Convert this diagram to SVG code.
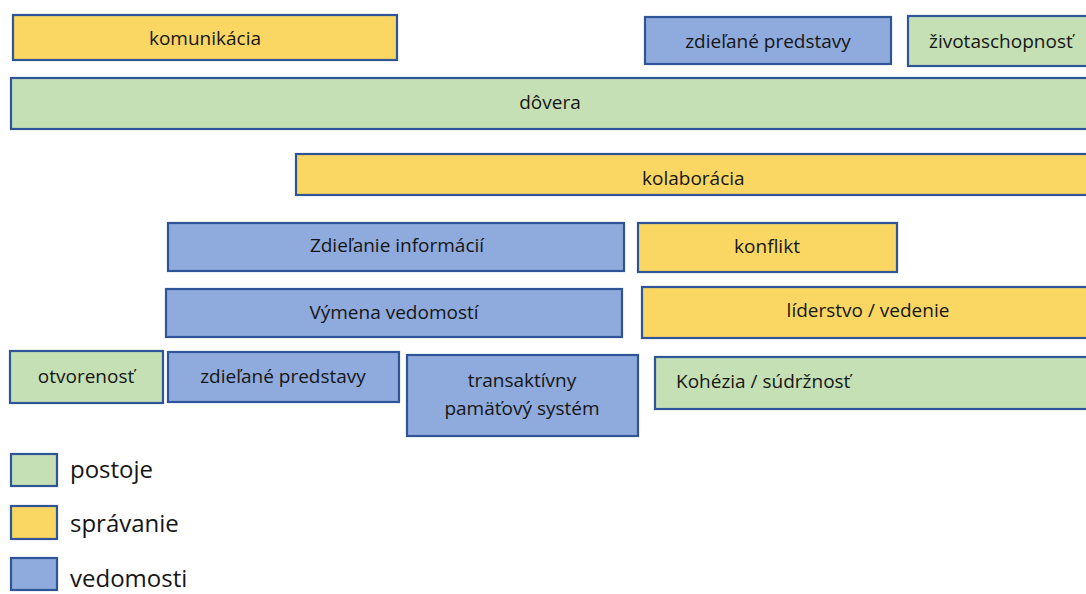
<svg xmlns="http://www.w3.org/2000/svg" width="1086" height="594" viewBox="0 0 1086 594">
  <style>
    .box { stroke: #2F5597; stroke-width: 2.2; }
    .att { fill: #C5E0B4; }
    .beh { fill: #FAD663; }
    .kno { fill: #8FAADC; }
    .lbl { font-family: "Open Sans", "Liberation Sans", sans-serif; font-size: 19px; fill: #161616; dominant-baseline: central; }
    .mid { text-anchor: middle; }
    .leg { font-family: "Open Sans", "Liberation Sans", sans-serif; font-size: 24px; fill: #161616; }
  </style>
  <rect width="1086" height="594" fill="#ffffff"/>

  <g id="komunikacia">
    <rect class="box beh" x="13" y="15" width="384" height="45"/>
    <text class="lbl mid" x="205" y="38">komunikácia</text>
  </g>
  <g id="zdielane-predstavy-top">
    <rect class="box kno" x="645" y="17" width="246" height="47"/>
    <text class="lbl mid" x="768" y="41">zdieľané predstavy</text>
  </g>
  <g id="zivotaschopnost">
    <rect class="box att" x="908" y="16" width="190" height="50"/>
    <text class="lbl" x="929" y="41">životaschopnosť</text>
  </g>
  <g id="dovera">
    <rect class="box att" x="11" y="78" width="1090" height="51"/>
    <text class="lbl mid" x="550" y="102">dôvera</text>
  </g>
  <g id="kolaboracia">
    <rect class="box beh" x="296" y="154" width="800" height="41"/>
    <text class="lbl" x="642" y="178">kolaborácia</text>
  </g>
  <g id="zdielanie-informacii">
    <rect class="box kno" x="168" y="223" width="456" height="48"/>
    <text class="lbl mid" x="397" y="245">Zdieľanie informácií</text>
  </g>
  <g id="konflikt">
    <rect class="box beh" x="638" y="223" width="259" height="49"/>
    <text class="lbl mid" x="767" y="246">konflikt</text>
  </g>
  <g id="vymena-vedomosti">
    <rect class="box kno" x="166" y="289" width="456" height="48"/>
    <text class="lbl mid" x="394" y="312">Výmena vedomostí</text>
  </g>
  <g id="liderstvo">
    <rect class="box beh" x="642" y="287" width="456" height="51"/>
    <text class="lbl mid" x="868" y="310">líderstvo / vedenie</text>
  </g>
  <g id="otvorenost">
    <rect class="box att" x="10" y="351" width="153" height="52"/>
    <text class="lbl mid" x="86" y="376">otvorenosť</text>
  </g>
  <g id="zdielane-predstavy">
    <rect class="box kno" x="168" y="352" width="231" height="50"/>
    <text class="lbl mid" x="283" y="376">zdieľané predstavy</text>
  </g>
  <g id="transaktivny">
    <rect class="box kno" x="407" y="355" width="231" height="81"/>
    <text class="lbl mid" x="522" y="380">transaktívny</text>
    <text class="lbl mid" x="522" y="408">pamäťový systém</text>
  </g>
  <g id="kohezia">
    <rect class="box att" x="655" y="357" width="443" height="52"/>
    <text class="lbl" x="676" y="381">Kohézia / súdržnosť</text>
  </g>

  <g id="legend">
    <rect class="box att" x="11" y="454" width="46" height="32"/>
    <text class="leg" x="70" y="478">postoje</text>
    <rect class="box beh" x="11" y="506" width="46" height="33"/>
    <text class="leg" x="70" y="532">správanie</text>
    <rect class="box kno" x="11" y="558" width="46" height="32"/>
    <text class="leg" x="70" y="587">vedomosti</text>
  </g>

  <g id="connectors"/>
</svg>
